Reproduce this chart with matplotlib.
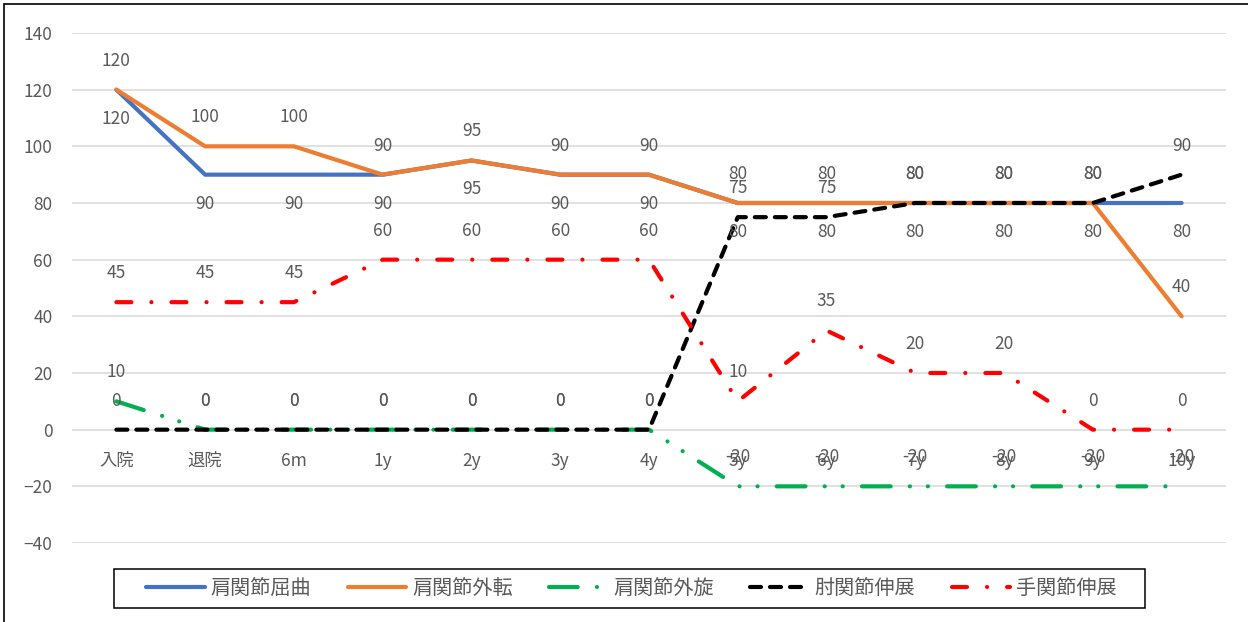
import matplotlib
matplotlib.use("Agg")
import matplotlib.pyplot as plt
from matplotlib.patches import Rectangle

plt.rcParams['font.family'] = ['Noto Sans CJK JP', 'DejaVu Sans']

categories = ["入院", "退院", "6m", "1y", "2y", "3y", "4y", "5y", "6y", "7y", "8y", "9y", "10y"]
shoulder_flexion = [120, 90, 90, 90, 95, 90, 90, 80, 80, 80, 80, 80, 80]
shoulder_abduction = [120, 100, 100, 90, 95, 90, 90, 80, 80, 80, 80, 80, 40]
shoulder_ext_rotation = [10, 0, 0, 0, 0, 0, 0, -20, -20, -20, -20, -20, -20]
elbow_extension = [0, 0, 0, 0, 0, 0, 0, 75, 75, 80, 80, 80, 90]
wrist_extension = [45, 45, 45, 60, 60, 60, 60, 10, 35, 20, 20, 0, 0]

series_names = ["肩関節屈曲", "肩関節外転", "肩関節外旋", "肘関節伸展", "手関節伸展"]
series_values = [shoulder_flexion, shoulder_abduction, shoulder_ext_rotation,
                 elbow_extension, wrist_extension]
colors = ["#4472C4", "#ED7D31", "#00B050", "#000000", "#FF0000"]
styles = ["-", "-",
          (0, (6.9, 4.6, 0.02, 4.3, 0.02, 4.6)),
          (0, (2.64, 2.16)),
          (0, (3.6, 4.8, 0.02, 4.8))]
label_side = [-1, 1, 1, 1, 1]   # -1: below the point, 1: above

TEXT = "#595959"
W, H = 1248, 622
fig = plt.figure(figsize=(W / 100, H / 100), dpi=100)
ax = fig.add_axes([72 / W, 1 - 543 / H, (1226 - 72) / W, (543 - 33) / H])

x = list(range(len(categories)))
for name, vals, c, ls, side in zip(series_names, series_values, colors, styles, label_side):
    ax.plot(x, vals, color=c, lw=3, linestyle=ls, label=name,
            solid_capstyle="round", dash_capstyle="round", zorder=3)
    for xi, v in zip(x, vals):
        ax.annotate(str(v), (xi, v), xytext=(0, 29 * side), textcoords="offset pixels",
                    ha="center", va="center", fontsize=12.5, color=TEXT, zorder=5)

# category labels sit under the zero line
for xi, cat in zip(x, categories):
    ax.annotate(cat, (xi, 0), xytext=(0, -31), textcoords="offset pixels",
                ha="center", va="center", fontsize=12.5, color=TEXT)

ax.set_xlim(-0.5, len(categories) - 0.5)
ax.set_ylim(-40, 140)
ax.set_yticks(range(-40, 141, 20))
ax.set_xticks([])
ax.tick_params(axis="y", length=0, pad=14, labelsize=12.5, labelcolor=TEXT)
ax.grid(axis="y", color="#D9D9D9", lw=1.1, zorder=0)
ax.set_axisbelow(True)
for s in ax.spines.values():
    s.set_visible(False)

# legend entries, with a separate box drawn around them
lx0, lx1, ly0, ly1 = 114, 1145, 569, 608
leg = fig.legend(loc="center", bbox_to_anchor=((lx0 + lx1) / 2 / W + 2 / W, 1 - (ly0 + ly1) / 2 / H),
                 ncol=5, fontsize=14.5, frameon=False,
                 handlelength=2.9, handletextpad=0.3, columnspacing=1.8)
for t in leg.get_texts():
    t.set_color(TEXT)
fig.patches.append(Rectangle((lx0 / W, 1 - ly1 / H), (lx1 - lx0) / W, (ly1 - ly0) / H,
                             transform=fig.transFigure, fill=False,
                             edgecolor="black", lw=1.1))

# outer chart frame
fig.patches.append(Rectangle((4 / W, -0.1), 1.2, 1.1 - 4 / H,
                             transform=fig.transFigure, fill=False,
                             edgecolor="black", lw=1.2))

fig.savefig("out.png", dpi=100)
